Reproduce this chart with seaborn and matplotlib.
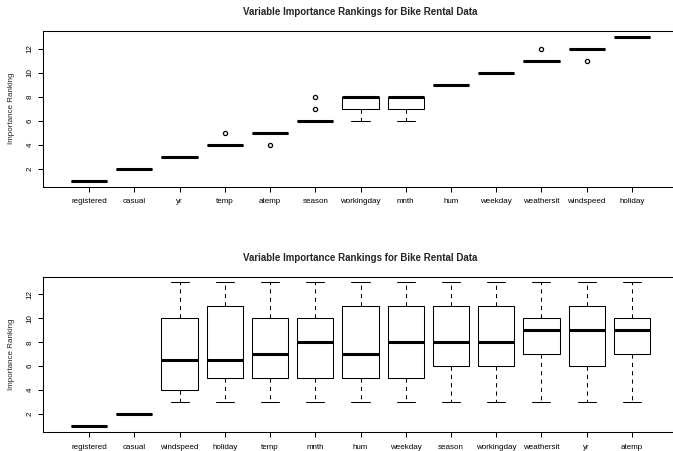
import pandas as pd
import matplotlib
matplotlib.use('Agg')
import matplotlib.pyplot as plt
import seaborn as sns

'''
rankings per run (read off the reference boxplots)
'''
top_order = ['registered', 'casual', 'yr', 'temp', 'atemp', 'season',
             'workingday', 'mnth', 'hum', 'weekday', 'weathersit',
             'windspeed', 'holiday']
top_ranks = {
    'registered': [1, 1, 1, 1, 1, 1, 1, 1, 1, 1],
    'casual': [2, 2, 2, 2, 2, 2, 2, 2, 2, 2],
    'yr': [3, 3, 3, 3, 3, 3, 3, 3, 3, 3],
    'temp': [4, 4, 4, 4, 4, 4, 4, 4, 4, 5],
    'atemp': [4, 5, 5, 5, 5, 5, 5, 5, 5, 5],
    'season': [6, 6, 6, 6, 6, 6, 6, 6, 7, 8],
    'workingday': [6, 7, 7, 7, 8, 8, 8, 8, 8, 8],
    'mnth': [6, 7, 7, 7, 8, 8, 8, 8, 8, 8],
    'hum': [9, 9, 9, 9, 9, 9, 9, 9, 9, 9],
    'weekday': [10, 10, 10, 10, 10, 10, 10, 10, 10, 10],
    'weathersit': [11, 11, 11, 11, 11, 11, 11, 11, 11, 12],
    'windspeed': [11, 12, 12, 12, 12, 12, 12, 12, 12, 12],
    'holiday': [13, 13, 13, 13, 13, 13, 13, 13, 13, 13],
}

bottom_order = ['registered', 'casual', 'windspeed', 'holiday', 'temp',
                'mnth', 'hum', 'weekday', 'season', 'workingday',
                'weathersit', 'yr', 'atemp']
bottom_ranks = {
    'registered': [1, 1, 1, 1, 1, 1, 1, 1, 1, 1],
    'casual': [2, 2, 2, 2, 2, 2, 2, 2, 2, 2],
    'windspeed': [3, 4, 4, 4, 6, 7, 10, 10, 12, 13],
    'holiday': [3, 5, 5, 5, 6, 7, 11, 11, 12, 13],
    'temp': [3, 4, 5, 5, 7, 7, 10, 10, 12, 13],
    'mnth': [3, 4, 5, 5, 8, 8, 10, 10, 11, 13],
    'hum': [3, 4, 5, 5, 7, 7, 11, 11, 12, 13],
    'weekday': [3, 5, 5, 5, 8, 8, 11, 11, 12, 13],
    'season': [3, 5, 6, 6, 8, 8, 11, 11, 12, 13],
    'workingday': [3, 4, 6, 6, 8, 8, 11, 11, 12, 13],
    'weathersit': [3, 6, 7, 7, 9, 9, 10, 10, 12, 13],
    'yr': [3, 5, 6, 6, 9, 9, 11, 11, 12, 13],
    'atemp': [3, 5, 7, 7, 9, 9, 10, 10, 11, 13],
}

y_ticks = [2, 4, 6, 8, 10, 12]
title = 'Variable Importance Rankings for Bike Rental Data'


def to_long(ranks):
    rows = []
    for var, vals in ranks.items():
        for v in vals:
            rows.append({'variable': var, 'rank': v})
    return pd.DataFrame(rows)


sns.set_style('ticks')
plt.rcParams['font.family'] = ['Liberation Sans', 'DejaVu Sans']

fig = plt.figure(figsize=(6.73, 4.51), dpi=100)
W, H = 673, 451
# the frame runs off the right side of the picture, so stop the axes at the edge
ax_top = fig.add_axes([43 / W, 1 - 186.5 / H, 630 / W, 155.5 / H])
ax_bot = fig.add_axes([43 / W, 1 - 432 / H, 630 / W, 155.5 / H])
x_right = -1.02 + 14.04 * 630 / 635

for ax, ranks, order in [(ax_top, top_ranks, top_order),
                         (ax_bot, bottom_ranks, bottom_order)]:
    df = to_long(ranks)
    sns.boxplot(
        data=df,
        x='variable',
        y='rank',
        order=order,
        color='white',
        linecolor='black',
        linewidth=0.75,
        width=0.8,
        whis=1.5,
        whiskerprops=dict(linestyle=(0, (4, 4))),
        medianprops=dict(linewidth=2.2),
        flierprops=dict(marker='o', markersize=3.0, markerfacecolor='none',
                        markeredgecolor='black', markeredgewidth=0.9),
        ax=ax
    )
    ax.set_xlim(-1.02, x_right)
    ax.set_ylim(0.52, 13.48)
    ax.set_yticks(y_ticks)
    ax.set_yticklabels([str(t) for t in y_ticks])
    ax.set_xlabel('')
    ax.set_ylabel('Importance Ranking', fontsize=5.8)
    ax.yaxis.set_label_coords(-0.044, 0.5)
    ax.tick_params(axis='x', length=3.6, width=0.75, pad=5.0,
                   labelsize=5.8, colors='black')
    ax.tick_params(axis='y', length=3.6, width=0.75, pad=3.0,
                   labelsize=5.8, labelrotation=90, colors='black')
    for lab in ax.get_yticklabels():
        lab.set_va('center')
    for sp in ['left', 'top', 'bottom']:
        ax.spines[sp].set_visible(True)
        ax.spines[sp].set_linewidth(0.75)
        ax.spines[sp].set_color('black')
    ax.spines['right'].set_visible(False)
    ax.set_title(title, fontsize=7, fontweight='bold', pad=11.5,
                 x=(635 / 630) / 2)

fig.savefig('out.png', dpi=100, facecolor='white')
